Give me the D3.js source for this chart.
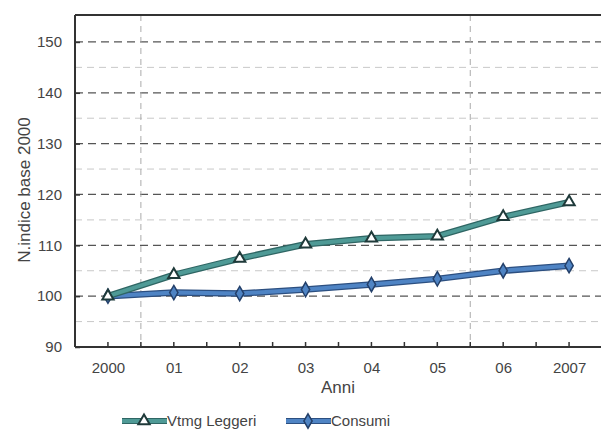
<!DOCTYPE html>
<html>
<head>
<meta charset="utf-8">
<script src="https://cdn.jsdelivr.net/npm/d3@7"></script>
<style>
  body { margin: 0; background: #fff; }
  text { font-family: Arial, "Liberation Sans", sans-serif; }
</style>
</head>
<body>
<svg width="601" height="430"></svg>
<script>
var anni = ["2000", "01", "02", "03", "04", "05", "06", "2007"];
var vtmgLeggeri = [100, 104.2, 107.4, 110.2, 111.4, 111.8, 115.6, 118.5];
var consumi = [100, 100.7, 100.5, 101.3, 102.3, 103.4, 105.0, 106.0];
var yTicks = [90, 100, 110, 120, 130, 140, 150];
var yMinor = [95, 105, 115, 125, 135, 145];

var svg = d3.select("svg");
var plotLeft = 75, plotRight = 602, plotTop = 15, plotBottom = 347;

var x = d3.scalePoint().domain(anni).range([plotLeft, plotRight]).padding(0.5);
var step = x.step();
var y = d3.scaleLinear().domain([90, 155.3]).range([plotBottom, plotTop]);

// minor grid (5s)
svg.append("g").selectAll("line").data(yMinor).enter().append("line")
    .attr("x1", plotLeft).attr("x2", plotRight)
    .attr("y1", function(d) { return y(d); }).attr("y2", function(d) { return y(d); })
    .attr("stroke", "#c8c8c8").attr("stroke-width", 1).attr("stroke-dasharray", "7,5");

// major grid (10s)
svg.append("g").selectAll("line").data(yTicks.filter(function(d) { return d > 90; })).enter().append("line")
    .attr("x1", plotLeft).attr("x2", plotRight)
    .attr("y1", function(d) { return y(d); }).attr("y2", function(d) { return y(d); })
    .attr("stroke", "#555").attr("stroke-width", 1.3).attr("stroke-dasharray", "8,5");

// the two vertical dashed lines
var vLines = [x("2000") + step / 2, x("05") + step / 2];
svg.append("g").selectAll("line").data(vLines).enter().append("line")
    .attr("x1", function(d) { return d; }).attr("x2", function(d) { return d; })
    .attr("y1", plotTop).attr("y2", plotBottom)
    .attr("stroke", "#aaa").attr("stroke-width", 1).attr("stroke-dasharray", "6,5");

// frame top
svg.append("line").attr("x1", plotLeft).attr("x2", plotRight).attr("y1", plotTop).attr("y2", plotTop)
    .attr("stroke", "#333").attr("stroke-width", 2);

// y axis
var yAxis = svg.append("g").attr("transform", "translate(" + plotLeft + ",0)")
    .call(d3.axisLeft(y).tickValues(yTicks).tickSize(-5).tickPadding(13));
yAxis.select(".domain").attr("stroke", "#333").attr("stroke-width", 2)
    .attr("d", "M0," + plotTop + "V" + plotBottom);
yAxis.selectAll(".tick line").attr("stroke", "#333").attr("stroke-width", 1.5);
yAxis.selectAll("text").attr("font-size", 15).attr("fill", "#444");

// x axis
var xAxis = svg.append("g").attr("transform", "translate(0," + plotBottom + ")")
    .call(d3.axisBottom(x).tickSize(0).tickPadding(15));
xAxis.select(".domain").attr("stroke", "#333").attr("stroke-width", 2)
    .attr("d", "M" + plotLeft + ",0H" + plotRight);
xAxis.selectAll("text").attr("font-size", 15).attr("fill", "#444");
var halfTicks = [];
anni.forEach(function(a) { halfTicks.push(x(a)); halfTicks.push(x(a) + step / 2); });
xAxis.append("g").selectAll("line").data(halfTicks.filter(function(d) { return d < plotRight - 2; }))
    .enter().append("line")
    .attr("x1", function(d) { return d; }).attr("x2", function(d) { return d; })
    .attr("y1", 0).attr("y2", -5)
    .attr("stroke", "#333").attr("stroke-width", 1.5);

// axis titles
svg.append("text").attr("x", 338).attr("y", 393).attr("text-anchor", "middle")
    .attr("font-size", 17).attr("fill", "#444").text("Anni");
svg.append("text").attr("transform", "translate(30,190) rotate(-90)").attr("text-anchor", "middle")
    .attr("font-size", 17).attr("fill", "#444").text("N.indice base 2000");

var series = [
  { name: "Vtmg Leggeri", values: vtmgLeggeri, color: "#4f9a96", edge: "#2f6664", marker: "triangle" },
  { name: "Consumi", values: consumi, color: "#4f84c4", edge: "#2c4f80", marker: "diamond" }
];

var line = d3.line().x(function(d, i) { return x(anni[i]); }).y(function(d) { return y(d); });

function drawMarker(g, s, cx, cy) {
  if (s.marker === "triangle") {
    g.append("path").attr("transform", "translate(" + cx + "," + cy + ")")
      .attr("d", d3.symbol().type(d3.symbolTriangle).size(55))
      .attr("fill", "#fff").attr("stroke", "#1f3a3a").attr("stroke-width", 2);
  } else {
    g.append("path").attr("transform", "translate(" + cx + "," + cy + ")")
      .attr("d", d3.symbol().type(d3.symbolDiamond).size(60))
      .attr("fill", s.color).attr("stroke", "#24406a").attr("stroke-width", 1.5);
  }
}

series.slice().reverse().forEach(function(s) {
  var g = svg.append("g");
  g.append("path").datum(s.values).attr("d", line).attr("fill", "none")
    .attr("stroke", s.edge).attr("stroke-width", 6.5).attr("stroke-linejoin", "round");
  g.append("path").datum(s.values).attr("d", line).attr("fill", "none")
    .attr("stroke", s.color).attr("stroke-width", 4).attr("stroke-linejoin", "round");
  s.values.forEach(function(v, i) { drawMarker(g, s, x(anni[i]), y(v)); });
});

// legend
var legendX = [122, 286];
series.forEach(function(s, i) {
  var g = svg.append("g").attr("transform", "translate(" + legendX[i] + ",421)");
  g.append("line").attr("x1", 0).attr("x2", 45).attr("stroke", s.edge).attr("stroke-width", 6);
  g.append("line").attr("x1", 0).attr("x2", 45).attr("stroke", s.color).attr("stroke-width", 4);
  drawMarker(g, s, 22, 0);
  g.append("text").attr("x", 45).attr("y", 5).attr("font-size", 15).attr("fill", "#444").text(s.name);
});
</script>
</body>
</html>
